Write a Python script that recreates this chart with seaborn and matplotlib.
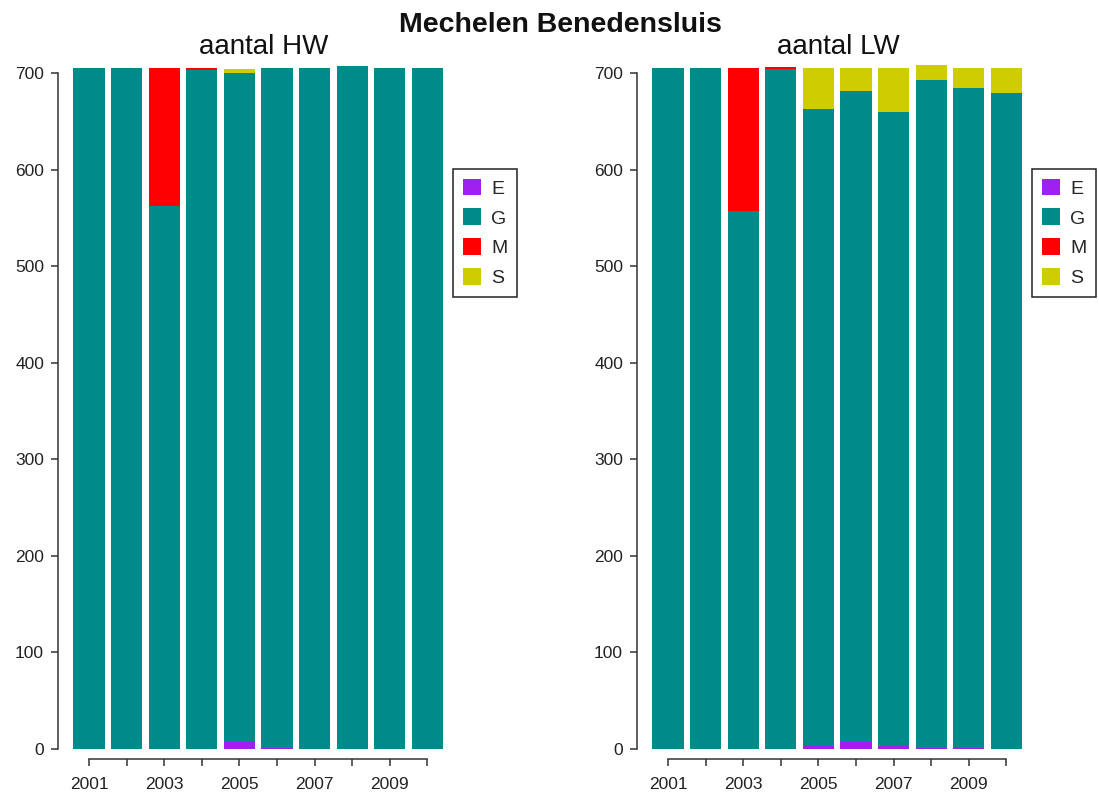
import matplotlib
matplotlib.use("Agg")
import matplotlib.pyplot as plt
from matplotlib.patches import Patch
import seaborn as sns
import pandas as pd
import numpy as np

# Tide counts per year and quality code (E, G, M, S)
years = ["2001", "2002", "2003", "2004", "2005", "2006", "2007", "2008", "2009", "2010"]

hw_E = [0, 0, 0, 0, 7, 1, 0, 0, 0, 0]
hw_G = [706, 706, 563, 704, 694, 705, 706, 708, 706, 706]
hw_M = [0, 0, 143, 2, 0, 0, 0, 0, 0, 0]
hw_S = [0, 0, 0, 0, 4, 0, 0, 0, 0, 0]

lw_E = [0, 0, 0, 0, 4, 7, 3, 1, 1, 0]
lw_G = [706, 706, 558, 705, 659, 675, 657, 692, 684, 680]
lw_M = [0, 0, 148, 2, 0, 0, 0, 0, 0, 0]
lw_S = [0, 0, 0, 0, 43, 24, 46, 16, 21, 26]

codes = ["E", "G", "M", "S"]
colors = {"E": "#A020F0", "G": "#008B8B", "M": "#FF0000", "S": "#CDCD00"}

sns.set_theme(style="ticks")
plt.rcParams["font.family"] = ["Liberation Sans", "DejaVu Sans"]

W, H = 1099, 794
fig = plt.figure(figsize=(W / 100, H / 100), dpi=100)
fig.patch.set_facecolor("white")


def px_rect(left, top, right, bottom):
    return [left / W, 1 - bottom / H, (right - left) / W, (bottom - top) / H]


def draw_panel(ax, title, E, G, M, S, legend_px, title_x):
    df = pd.DataFrame({"year": years, "E": E, "G": G, "M": M, "S": S})
    # stacked bars: draw cumulative totals from the top layer down
    layers = [("S", df[["E", "G", "M", "S"]].sum(axis=1)),
              ("M", df[["E", "G", "M"]].sum(axis=1)),
              ("G", df[["E", "G"]].sum(axis=1)),
              ("E", df["E"])]
    for code, cum in layers:
        sns.barplot(x=df["year"], y=cum, color=colors[code], saturation=1,
                    width=0.833, order=years, ax=ax, linewidth=0)
    ax.set_xlim(-0.824, 9.84)
    ax.set_ylim(-10.4, 715)
    ax.set_xlabel("")
    ax.set_ylabel("")
    ax.set_facecolor("white")
    for side in ("top", "right"):
        ax.spines[side].set_visible(False)
    ax.spines["left"].set_bounds(0, 700)
    ax.spines["bottom"].set_bounds(0, 9)
    for side in ("left", "bottom"):
        ax.spines[side].set_color("#333333")
        ax.spines[side].set_linewidth(1.1)
    ax.set_yticks(range(0, 701, 100))
    ax.set_yticklabels([str(v) for v in range(0, 701, 100)])
    ax.set_xticks(range(len(years)))
    ax.set_xticklabels([y if i % 2 == 0 else "" for i, y in enumerate(years)])
    ax.tick_params(axis="both", direction="out", length=5, width=1.1,
                   color="#333333", labelcolor="#222222", labelsize=12.5)
    ax.tick_params(axis="y", pad=5)
    ax.tick_params(axis="x", pad=8)
    fig.text(title_x / W, 1 - 47 / H, title, ha="center", va="center",
             fontsize=20, color="#111111")
    handles = [Patch(facecolor=colors[c], edgecolor="none", label=c) for c in codes]
    lx, ly = legend_px
    leg = ax.legend(handles=handles, loc="upper left",
                    bbox_to_anchor=(lx / W, 1 - ly / H),
                    bbox_transform=fig.transFigure,
                    frameon=True, fancybox=False, fontsize=14,
                    handlelength=0.95, handleheight=0.95, handletextpad=0.5,
                    labelspacing=0.55, borderpad=0.5, borderaxespad=0)
    frame = leg.get_frame()
    frame.set_edgecolor("#222222")
    frame.set_linewidth(1.1)
    frame.set_facecolor("white")
    frame.set_alpha(1)


ax1 = fig.add_axes(px_rect(58, 59, 459, 759))
ax2 = fig.add_axes(px_rect(637, 59, 1038, 759))

draw_panel(ax1, "aantal HW", hw_E, hw_G, hw_M, hw_S, (453, 169), 264)
draw_panel(ax2, "aantal LW", lw_E, lw_G, lw_M, lw_S, (1032, 169), 838)

fig.text(560 / W, 1 - 25 / H, "Mechelen Benedensluis", ha="center", va="center",
         fontsize=20.5, fontweight="bold", color="#111111")

fig.savefig("out.png", dpi=100, facecolor="white")
